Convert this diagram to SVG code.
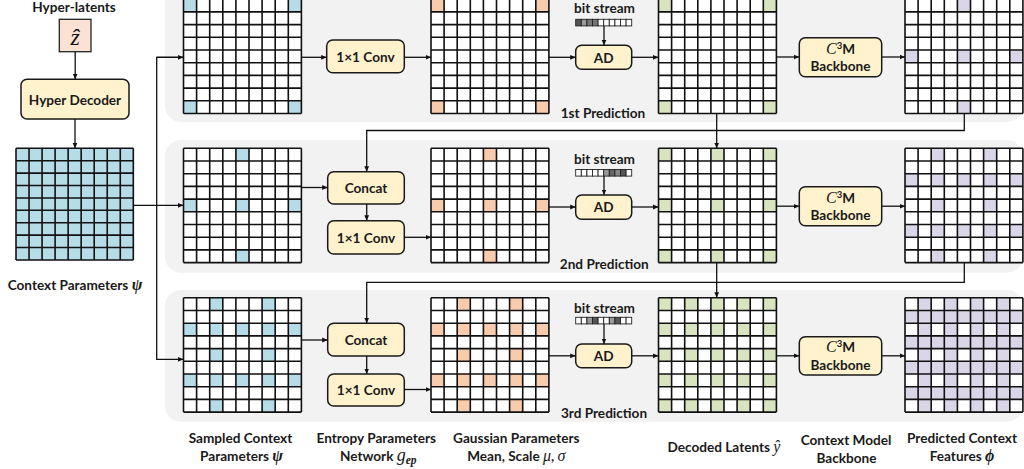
<svg xmlns="http://www.w3.org/2000/svg" xmlns:xlink="http://www.w3.org/1999/xlink" width="1024" height="469" viewBox="0 0 1024 469">
<style>
.panel{fill:#f2f2f2}
.box{fill:#fff2cc;stroke:#1a1a1a;stroke-width:1.5}
.lbl{font-family:Lato,"Liberation Sans",sans-serif;font-weight:700;font-size:13.6px;fill:#1a1a1a;text-anchor:middle}
.ctr{dominant-baseline:central}
.math{font-family:"Liberation Serif","DejaVu Serif",serif;font-style:italic}
.conn{fill:none;stroke:#111;stroke-width:1.3}
.gl{fill:none;stroke:#111;stroke-width:1.6}
.bg{fill:#ffffff}
.blue{fill:#b6dce7}
.peach{fill:#f8cbad}
.green{fill:#d8e4bf}
.lav{fill:#dad6e8}
.white{fill:#ffffff}
.bit{stroke:#222;stroke-width:0.9}
</style>
<defs>
<marker id="ah" markerUnits="userSpaceOnUse" markerWidth="6" markerHeight="6" refX="5.5" refY="3" orient="auto">
<path d="M0,0.6 L5.5,3 L0,5.4 z" fill="#111"/>
</marker>
<rect id="c" width="13.1" height="12.7"/>
<path id="gl" class="gl" d="M0,0V114.3M13.1,0V114.3M26.2,0V114.3M39.3,0V114.3M52.4,0V114.3M65.5,0V114.3M78.6,0V114.3M91.7,0V114.3M104.8,0V114.3M117.9,0V114.3M0,0H117.9M0,12.7H117.9M0,25.4H117.9M0,38.1H117.9M0,50.8H117.9M0,63.5H117.9M0,76.2H117.9M0,88.9H117.9M0,101.6H117.9M0,114.3H117.9"/>
<g id="pc"><use href="#c" x="0" y="0"/><use href="#c" x="104.8" y="0"/><use href="#c" x="0" y="101.6"/><use href="#c" x="104.8" y="101.6"/></g>
<g id="pm"><use href="#c" x="52.4" y="0"/><use href="#c" x="0" y="50.8"/><use href="#c" x="52.4" y="50.8"/><use href="#c" x="104.8" y="50.8"/><use href="#c" x="52.4" y="101.6"/></g>
<g id="p9"><use href="#pc"/><use href="#pm"/></g>
<g id="p16">
<use href="#c" x="26.2" y="0"/><use href="#c" x="78.6" y="0"/>
<use href="#c" x="0" y="25.4"/><use href="#c" x="26.2" y="25.4"/><use href="#c" x="52.4" y="25.4"/><use href="#c" x="78.6" y="25.4"/><use href="#c" x="104.8" y="25.4"/>
<use href="#c" x="26.2" y="50.8"/><use href="#c" x="78.6" y="50.8"/>
<use href="#c" x="0" y="76.2"/><use href="#c" x="26.2" y="76.2"/><use href="#c" x="52.4" y="76.2"/><use href="#c" x="78.6" y="76.2"/><use href="#c" x="104.8" y="76.2"/>
<use href="#c" x="26.2" y="101.6"/><use href="#c" x="78.6" y="101.6"/>
</g>
<g id="p25"><use href="#p9"/><use href="#p16"/></g>
</defs>

<!-- panels -->
<rect class="panel" x="165" y="-20" width="858" height="142" rx="16"/>
<rect class="panel" x="165" y="140" width="858" height="132.7" rx="16"/>
<rect class="panel" x="165" y="290" width="858" height="131.7" rx="16"/>

<!-- left column -->
<text class="lbl" x="74" y="11.5">Hyper-latents</text>
<g id="hyperlatent">
<rect x="59.3" y="19.3" width="31.7" height="32.4" fill="#fbe2d5" stroke="#222" stroke-width="1.3"/>
<text class="math ctr" x="75.2" y="37" font-size="24" text-anchor="middle" fill="#111">ẑ</text>
</g>
<g id="hyperdecoder">
<rect class="box" x="21" y="79.3" width="108" height="39.7" rx="6"/>
<text class="lbl ctr" x="75" y="99.5">Hyper Decoder</text>
</g>
<g id="contextparams">
<g transform="translate(16,148.3) scale(0.995,0.977)">
<rect class="blue" width="117.9" height="114.3"/>
<use href="#gl"/>
</g>
<text class="lbl" x="75" y="290">Context Parameters <tspan class="math" font-size="16">ψ</tspan></text>
</g>

<!-- row 1 -->
<g id="r1-sampled" transform="translate(183.5,-0.8)"><rect class="bg" width="117.9" height="114.3"/><use href="#pc" class="blue"/><use href="#gl"/></g>
<g id="r1-conv"><rect class="box" x="326.7" y="40" width="77.6" height="32.7" rx="6"/><text class="lbl ctr" x="365.5" y="56.6">1×1 Conv</text></g>
<g id="r1-gauss" transform="translate(431,-0.8)"><rect class="bg" width="117.9" height="114.3"/><use href="#pc" class="peach"/><use href="#gl"/></g>
<g id="r1-bits">
<text class="lbl" x="604.5" y="13.3">bit stream</text>
<g transform="translate(575.7,19.3)">
<rect class="bit" x="0" y="0" width="5.6" height="6.6" fill="#555"/><rect class="bit" x="5.6" y="0" width="5.6" height="6.6" fill="#999"/><rect class="bit" x="11.2" y="0" width="5.6" height="6.6" fill="#777"/><rect class="bit" x="16.8" y="0" width="5.6" height="6.6" fill="#777"/><rect class="bit" x="22.4" y="0" width="5.6" height="6.6" fill="#fff"/><rect class="bit" x="28" y="0" width="5.6" height="6.6" fill="#fff"/><rect class="bit" x="33.6" y="0" width="5.6" height="6.6" fill="#fff"/><rect class="bit" x="39.2" y="0" width="5.6" height="6.6" fill="#fff"/><rect class="bit" x="44.8" y="0" width="5.6" height="6.6" fill="#fff"/><rect class="bit" x="50.4" y="0" width="5.6" height="6.6" fill="#fff"/>
</g>
</g>
<g id="r1-ad"><rect class="box" x="575.7" y="45.3" width="56" height="24" rx="6"/><text class="lbl ctr" x="603.7" y="57.5">AD</text></g>
<g id="r1-decoded" transform="translate(658.5,-0.8)"><rect class="bg" width="117.9" height="114.3"/><use href="#pc" class="green"/><use href="#gl"/></g>
<g id="r1-c3m"><rect class="box" x="799.3" y="37.7" width="82.4" height="39" rx="6"/>
<text class="lbl" x="840.5" y="53.5"><tspan class="math" font-weight="400" font-size="16">C</tspan><tspan dy="-5" font-size="9.5">3</tspan><tspan dy="5">M</tspan></text>
<text class="lbl" x="840.5" y="71">Backbone</text></g>
<g id="r1-pred" transform="translate(905,-0.8)"><rect class="bg" width="117.9" height="114.3"/><use href="#pm" class="lav"/><use href="#gl"/></g>
<text class="lbl" x="603" y="118.3">1st Prediction</text>

<!-- row 2 -->
<g id="r2-sampled" transform="translate(183.5,148.3)"><rect class="bg" width="117.9" height="114.3"/><use href="#pm" class="blue"/><use href="#gl"/></g>
<g id="r2-concat"><rect class="box" x="327.7" y="171.7" width="76.6" height="32.3" rx="6"/><text class="lbl ctr" x="366" y="188">Concat</text></g>
<g id="r2-conv"><rect class="box" x="327.7" y="220.7" width="76.6" height="33.3" rx="6"/><text class="lbl ctr" x="366" y="237.5">1×1 Conv</text></g>
<g id="r2-gauss" transform="translate(431,148.3)"><rect class="bg" width="117.9" height="114.3"/><use href="#pm" class="peach"/><use href="#gl"/></g>
<g id="r2-bits">
<text class="lbl" x="604.5" y="164.3">bit stream</text>
<g transform="translate(575.7,169.5)">
<rect class="bit" x="0" y="0" width="5.6" height="6.6" fill="#fff"/><rect class="bit" x="5.6" y="0" width="5.6" height="6.6" fill="#fff"/><rect class="bit" x="11.2" y="0" width="5.6" height="6.6" fill="#fff"/><rect class="bit" x="16.8" y="0" width="5.6" height="6.6" fill="#fff"/><rect class="bit" x="22.4" y="0" width="5.6" height="6.6" fill="#fff"/><rect class="bit" x="28" y="0" width="5.6" height="6.6" fill="#999"/><rect class="bit" x="33.6" y="0" width="5.6" height="6.6" fill="#666"/><rect class="bit" x="39.2" y="0" width="5.6" height="6.6" fill="#888"/><rect class="bit" x="44.8" y="0" width="5.6" height="6.6" fill="#555"/><rect class="bit" x="50.4" y="0" width="5.6" height="6.6" fill="#fff"/>
</g>
</g>
<g id="r2-ad"><rect class="box" x="575.7" y="195" width="56" height="24.3" rx="6"/><text class="lbl ctr" x="603.7" y="207.3">AD</text></g>
<g id="r2-decoded" transform="translate(658.5,148.3)"><rect class="bg" width="117.9" height="114.3"/><use href="#p9" class="green"/><use href="#gl"/></g>
<g id="r2-c3m"><rect class="box" x="799.3" y="186.7" width="82.4" height="39" rx="6"/>
<text class="lbl" x="840.5" y="202.5"><tspan class="math" font-weight="400" font-size="16">C</tspan><tspan dy="-5" font-size="9.5">3</tspan><tspan dy="5">M</tspan></text>
<text class="lbl" x="840.5" y="220">Backbone</text></g>
<g id="r2-pred" transform="translate(905,148.3)"><rect class="bg" width="117.9" height="114.3"/><use href="#p16" class="lav"/><use href="#gl"/></g>
<text class="lbl" x="604.3" y="269.3">2nd Prediction</text>

<!-- row 3 -->
<g id="r3-sampled" transform="translate(183.5,297.8)"><rect class="bg" width="117.9" height="114.3"/><use href="#p16" class="blue"/><use href="#gl"/></g>
<g id="r3-concat"><rect class="box" x="327.7" y="323.3" width="76.6" height="32.7" rx="6"/><text class="lbl ctr" x="366" y="339.8">Concat</text></g>
<g id="r3-conv"><rect class="box" x="327.7" y="374" width="76.6" height="32" rx="6"/><text class="lbl ctr" x="366" y="390.2">1×1 Conv</text></g>
<g id="r3-gauss" transform="translate(431,297.8)"><rect class="bg" width="117.9" height="114.3"/><use href="#p16" class="peach"/><use href="#gl"/></g>
<g id="r3-bits">
<text class="lbl" x="604.5" y="312.7">bit stream</text>
<g transform="translate(575.7,317.3)">
<rect class="bit" x="0" y="0" width="5.6" height="6.6" fill="#fff"/><rect class="bit" x="5.6" y="0" width="5.6" height="6.6" fill="#fff"/><rect class="bit" x="11.2" y="0" width="5.6" height="6.6" fill="#999"/><rect class="bit" x="16.8" y="0" width="5.6" height="6.6" fill="#555"/><rect class="bit" x="22.4" y="0" width="5.6" height="6.6" fill="#fff"/><rect class="bit" x="28" y="0" width="5.6" height="6.6" fill="#fff"/><rect class="bit" x="33.6" y="0" width="5.6" height="6.6" fill="#999"/><rect class="bit" x="39.2" y="0" width="5.6" height="6.6" fill="#555"/><rect class="bit" x="44.8" y="0" width="5.6" height="6.6" fill="#fff"/><rect class="bit" x="50.4" y="0" width="5.6" height="6.6" fill="#fff"/>
</g>
</g>
<g id="r3-ad"><rect class="box" x="575.7" y="344" width="56" height="23.7" rx="6"/><text class="lbl ctr" x="603.7" y="356">AD</text></g>
<g id="r3-decoded" transform="translate(658.5,297.8)"><rect class="bg" width="117.9" height="114.3"/><use href="#p25" class="green"/><use href="#gl"/></g>
<g id="r3-c3m"><rect class="box" x="799.3" y="336.7" width="82.4" height="38.3" rx="6"/>
<text class="lbl" x="840.5" y="352.3"><tspan class="math" font-weight="400" font-size="16">C</tspan><tspan dy="-5" font-size="9.5">3</tspan><tspan dy="5">M</tspan></text>
<text class="lbl" x="840.5" y="369.7">Backbone</text></g>
<g id="r3-pred" transform="translate(905,297.8)"><rect class="lav" width="117.9" height="114.3"/><use href="#p25" class="white"/><use href="#gl"/></g>
<text class="lbl" x="604" y="418.3">3rd Prediction</text>

<!-- connectors -->
<g id="connectors">
<path class="conn" d="M75.2,51.7V79.3" marker-end="url(#ah)"/>
<path class="conn" d="M75,119V148.3" marker-end="url(#ah)"/>
<path class="conn" d="M133,205.3H183.5" marker-end="url(#ah)"/>
<path class="conn" d="M183.5,57.3H156.7V359.3H183.5" marker-end="url(#ah)"/>
<path class="conn" d="M156.7,57.3H183.5" marker-end="url(#ah)"/>
<path class="conn" d="M301.4,57.3H326.7" marker-end="url(#ah)"/>
<path class="conn" d="M404.3,57.3H431" marker-end="url(#ah)"/>
<path class="conn" d="M548.9,57.3H575.7" marker-end="url(#ah)"/>
<path class="conn" d="M604,25.9V45.3" marker-end="url(#ah)"/>
<path class="conn" d="M631.7,57.3H658.5" marker-end="url(#ah)"/>
<path class="conn" d="M776.4,57H799.3" marker-end="url(#ah)"/>
<path class="conn" d="M881.7,57H905" marker-end="url(#ah)"/>
<path class="conn" d="M716.7,113.5V148.3" marker-end="url(#ah)"/>
<path class="conn" d="M964.3,113.5V130.5H366.7V171.7" marker-end="url(#ah)"/>
<path class="conn" d="M301.4,187.5H327.7" marker-end="url(#ah)"/>
<path class="conn" d="M366.7,204V220.7" marker-end="url(#ah)"/>
<path class="conn" d="M404.3,237.3H431" marker-end="url(#ah)"/>
<path class="conn" d="M548.9,207H575.7" marker-end="url(#ah)"/>
<path class="conn" d="M604,176.1V195" marker-end="url(#ah)"/>
<path class="conn" d="M631.7,207H658.5" marker-end="url(#ah)"/>
<path class="conn" d="M776.4,206.2H799.3" marker-end="url(#ah)"/>
<path class="conn" d="M881.7,206.2H905" marker-end="url(#ah)"/>
<path class="conn" d="M716.7,262.6V297.8" marker-end="url(#ah)"/>
<path class="conn" d="M964.3,262.6V282.3H366.7V323.3" marker-end="url(#ah)"/>
<path class="conn" d="M301.4,340H327.7" marker-end="url(#ah)"/>
<path class="conn" d="M366.7,356V374" marker-end="url(#ah)"/>
<path class="conn" d="M404.3,389.5H431" marker-end="url(#ah)"/>
<path class="conn" d="M548.9,355.8H575.7" marker-end="url(#ah)"/>
<path class="conn" d="M604,323.9V344" marker-end="url(#ah)"/>
<path class="conn" d="M631.7,355.8H658.5" marker-end="url(#ah)"/>
<path class="conn" d="M776.4,355.8H799.3" marker-end="url(#ah)"/>
<path class="conn" d="M881.7,355.8H905" marker-end="url(#ah)"/>
</g>

<!-- bottom labels -->
<text class="lbl" x="240.5" y="442.5">Sampled Context</text>
<text class="lbl" x="241.5" y="460.5">Parameters <tspan class="math" font-size="16">ψ</tspan></text>
<text class="lbl" x="376.3" y="442.5">Entropy Parameters</text>
<text class="lbl" x="378.3" y="460.5">Network  <tspan class="math" font-weight="400" font-size="18">g</tspan><tspan class="math" font-size="11.5" dy="3">ep</tspan></text>
<text class="lbl" x="516.3" y="442.5">Gaussian Parameters</text>
<text class="lbl" x="516.3" y="460.5">Mean, Scale  <tspan class="math" font-weight="400" font-size="16">μ</tspan>,  <tspan class="math" font-weight="400" font-size="16">σ</tspan></text>
<text class="lbl" x="724" y="451.7">Decoded Latents  <tspan class="math" font-weight="400" font-size="16">ŷ</tspan></text>
<text class="lbl" x="846" y="445">Context Model</text>
<text class="lbl" x="846.5" y="463">Backbone</text>
<text class="lbl" x="962" y="442.5">Predicted Context</text>
<text class="lbl" x="962" y="460.5">Features <tspan class="math" font-size="16">ϕ</tspan></text>
</svg>
